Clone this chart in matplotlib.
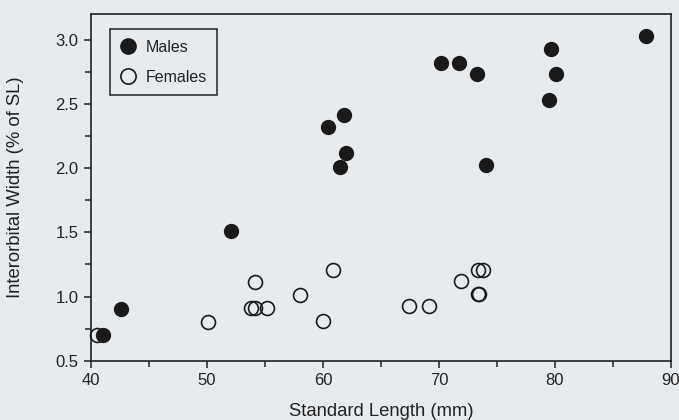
import matplotlib
matplotlib.use("Agg")
import matplotlib.pyplot as plt
from matplotlib.ticker import MultipleLocator

males_sl = [41.0, 42.6, 52.1, 60.4, 61.8, 62.0, 61.5, 70.2, 71.75, 73.3, 74.1, 79.7, 80.1, 79.5, 87.9]
males_iow = [0.70, 0.90, 1.51, 2.32, 2.41, 2.12, 2.01, 2.82, 2.82, 2.73, 2.02, 2.93, 2.735, 2.53, 3.03]

females_sl = [40.5, 50.1, 54.15, 53.8, 54.15, 55.2, 58.0, 60.0, 60.9, 67.45, 69.15, 71.9, 73.35, 73.8, 73.4, 73.5]
females_iow = [0.70, 0.80, 1.11, 0.91, 0.91, 0.91, 1.01, 0.81, 1.21, 0.925, 0.925, 1.12, 1.21, 1.21, 1.02, 1.02]

bg = '#e8ebee'
plt.rcParams['font.family'] = ['Liberation Sans', 'DejaVu Sans']

fig = plt.figure(figsize=(6.79, 4.2), dpi=100, facecolor=bg)
ax = fig.add_axes([0.134, 0.141, 0.854, 0.826], facecolor=bg)

ax.plot(males_sl, males_iow, 'o', color='#1a1a1a', markersize=10, label='Males', clip_on=False, zorder=3)
ax.plot(females_sl, females_iow, 'o', markerfacecolor='none', markeredgecolor='#1a1a1a',
        markeredgewidth=1.2, markersize=10, label='Females', clip_on=False, zorder=3)

ax.set_xlim(40, 90)
ax.set_ylim(0.5, 3.2)
ax.xaxis.set_major_locator(MultipleLocator(10))
ax.xaxis.set_minor_locator(MultipleLocator(5))
ax.yaxis.set_minor_locator(MultipleLocator(0.25))
ax.set_yticks([0.5, 1.0, 1.5, 2.0, 2.5, 3.0])
ax.set_yticklabels(['0.5', '1.0', '1.5', '2.0', '2.5', '3.0'])
ax.tick_params(which='major', direction='out', length=5, width=1.1, labelsize=12, color='#222222', labelcolor='#222222', pad=4)
ax.tick_params(which='minor', direction='out', length=4, width=1.1, color='#222222')
ax.tick_params(top=False, right=False, which='both')
for s in ax.spines.values():
    s.set_linewidth(1.2)
    s.set_color('#222222')

ax.set_xlabel('Standard Length (mm)', fontsize=13.3, color='#222222')
ax.xaxis.set_label_coords(0.5, -0.123)
ax.set_ylabel('Interorbital Width (% of SL)', fontsize=13.3, color='#222222')
ax.yaxis.set_label_coords(-0.116, 0.5)

leg = ax.legend(loc='upper left', bbox_to_anchor=(0.032, 0.955), frameon=True, fancybox=False,
                edgecolor='#222222', facecolor=bg, framealpha=1, fontsize=11.5, handletextpad=0.6,
                labelspacing=0.95, borderpad=0.65, handlelength=1.0, borderaxespad=0, markerscale=1.1)
leg.get_frame().set_linewidth(1.1)
for t in leg.get_texts():
    t.set_color('#222222')

fig.savefig('out.png', dpi=100, facecolor=bg)
